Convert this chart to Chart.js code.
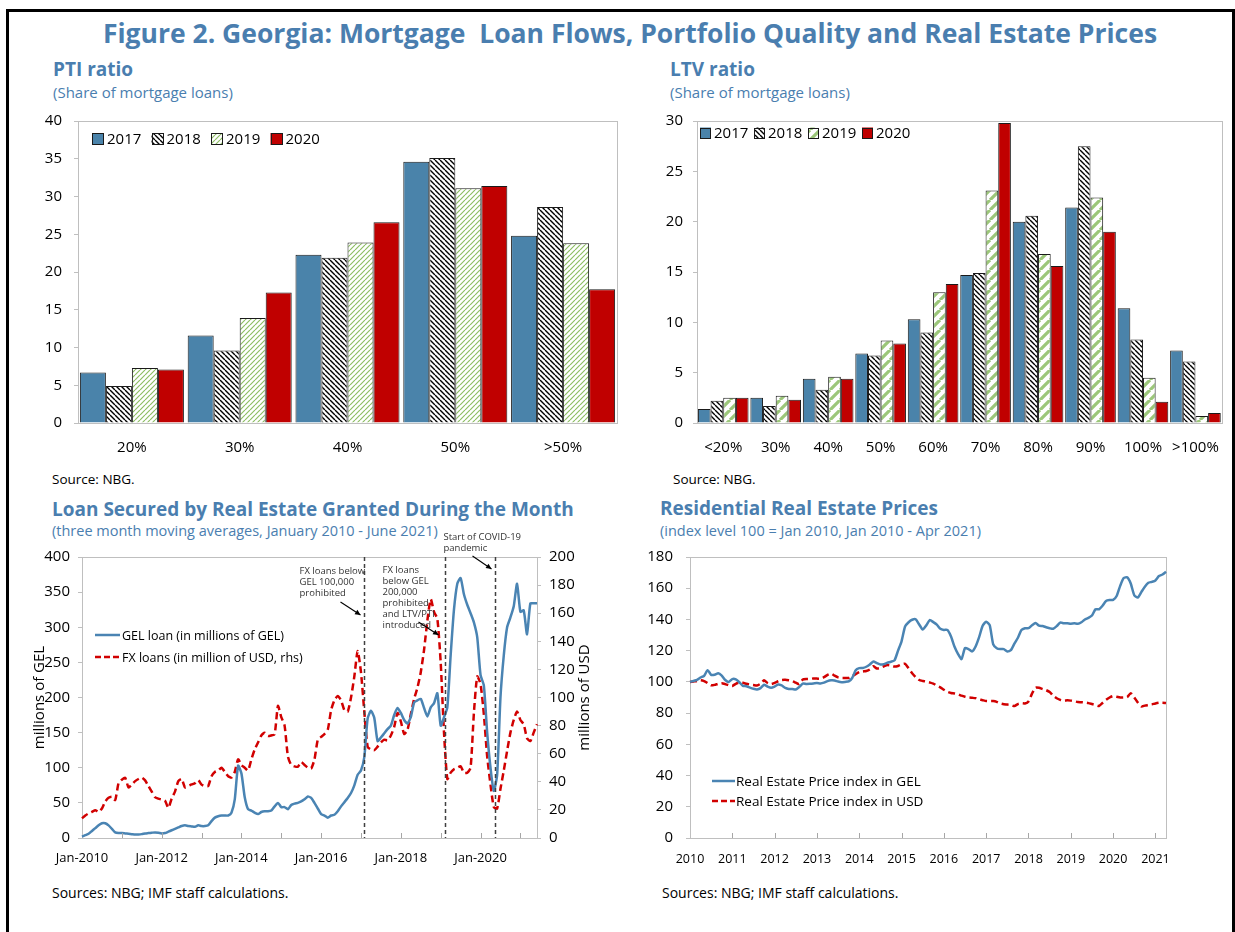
<!DOCTYPE html>
<html>
<head>
<meta charset="utf-8">
<script src="https://cdn.jsdelivr.net/npm/chart.js@4.4.1/dist/chart.umd.min.js"></script>
<style>
  body { margin: 0; width: 1235px; height: 932px; background: #fff; position: relative; overflow: hidden; font-family: "Open Sans", sans-serif; }
  .frame { position: absolute; left: 6px; top: 9px; width: 1223px; height: 960px; border: 3px solid #000; border-bottom: none; }
  .t { position: absolute; white-space: pre; color: #4A7EAF; }
  .h1 { left: 0; width: 1260px; text-align: center; top: 16px; line-height: 34px; font-weight: bold; font-size: 26.5px; }
  .h2 { font-weight: bold; font-size: 19px; line-height: 24px; }
  .h3 { font-size: 15px; line-height: 18px; }
  .src { position: absolute; white-space: pre; color: #000; font-size: 13.5px; line-height: 18px; }
  canvas { position: absolute; }
</style>
</head>
<body>
<div class="frame"></div>
<div class="t h1">Figure 2. Georgia: Mortgage  Loan Flows, Portfolio Quality and Real Estate Prices</div>
<div class="t h2" style="left:53px;top:57px">PTI ratio</div>
<div class="t h3" style="left:53px;top:83px">(Share of mortgage loans)</div>
<div class="t h2" style="left:670px;top:57px">LTV ratio</div>
<div class="t h3" style="left:670px;top:83px">(Share of mortgage loans)</div>
<div class="src" style="left:52px;top:470px">Source: NBG.</div>
<div class="src" style="left:673px;top:470px">Source: NBG.</div>
<div class="t h2" style="left:52px;top:497px">Loan Secured by Real Estate Granted During the Month</div>
<div class="t h3" style="left:52px;top:522px;font-size:14.5px">(three month moving averages, January 2010 - June 2021)</div>
<div class="t h2" style="left:660px;top:496px">Residential Real Estate Prices</div>
<div class="t h3" style="left:660px;top:522px;font-size:14.5px">(index level 100 = Jan 2010, Jan 2010 - Apr 2021)</div>
<div class="src" style="left:52px;top:884px;font-size:14px">Sources: NBG; IMF staff calculations.</div>
<div class="src" style="left:662px;top:884px;font-size:14px">Sources: NBG; IMF staff calculations.</div>

<canvas id="pti" width="600" height="360" style="left:30px;top:110px"></canvas>
<canvas id="ltv" width="595" height="360" style="left:640px;top:110px"></canvas>
<canvas id="loans" width="590" height="345" style="left:20px;top:525px"></canvas>
<canvas id="prices" width="595" height="330" style="left:640px;top:540px"></canvas>

<script>
// ---- data ----
const years = ['2017', '2018', '2019', '2020'];

const ptiCats = ['20%', '30%', '40%', '50%', '>50%'];
const pti2017 = [6.7, 11.6, 22.3, 34.6, 24.8];
const pti2018 = [4.9, 9.6, 21.9, 35.1, 28.6];
const pti2019 = [7.3, 13.9, 23.9, 31.1, 23.8];
const pti2020 = [7.1, 17.3, 26.6, 31.4, 17.7];

const ltvCats = ['<20%', '30%', '40%', '50%', '60%', '70%', '80%', '90%', '100%', '>100%'];
const ltv2017 = [1.4, 2.5, 4.4, 6.9, 10.3, 14.7, 20.0, 21.4, 11.4, 7.2];
const ltv2018 = [2.2, 1.7, 3.3, 6.7, 9.0, 14.9, 20.6, 27.5, 8.3, 6.1];
const ltv2019 = [2.5, 2.7, 4.6, 8.2, 13.0, 23.1, 16.8, 22.4, 4.5, 0.7];
const ltv2020 = [2.5, 2.3, 4.4, 7.9, 13.8, 29.8, 15.6, 19.0, 2.1, 1.0];

// Jan-2010 .. Jun-2021, millions of GEL
const gelLoans = [
  2, 4, 6, 10, 14, 18, 21, 21, 18, 13, 8, 7,
  7, 6.5, 6, 5.5, 5, 5, 5.5, 6.5, 7, 7.5, 8, 7.5,
  6.5, 7, 9, 11, 13, 15, 17, 18, 17, 16.5, 16, 18,
  17, 17, 18, 24, 29, 31, 32, 32, 32, 36, 55, 103,
  92, 58, 41, 39, 36, 34, 37, 38, 38, 39, 45, 50,
  44, 44, 41, 47, 49, 50, 52, 55, 59, 57, 50, 42,
  34, 32, 29, 32, 33, 38, 45, 51,
  57, 64, 75, 90, 96, 115, 170, 181, 171, 138, 143, 149,
  155, 160, 175, 185, 178, 168, 163, 172, 193, 196, 198, 185,
  173, 186, 192, 206, 160, 172, 186, 260, 325, 362, 370, 347,
  332, 320, 307, 286, 232, 217, 150, 100, 67, 90, 200, 260,
  300, 314, 330, 362, 322, 324, 290, 334, 334, 334
];
// millions of USD (rhs)
const fxLoans = [
  14, 16, 17.5, 18.6, 19.8, 18.5, 21, 26, 28.6, 29.3, 27, 39,
  41.5, 42.8, 36, 38, 40.5, 42, 43, 41, 37, 33, 29, 28,
  27.4, 26.5, 21.5, 28, 33, 40.5, 42, 36, 37, 38.1, 39, 41.2,
  38, 37, 37, 44, 47, 48, 50, 47, 44, 43, 47, 56,
  52, 50, 48, 56, 63, 68, 73, 75, 72.6, 73, 73.8, 94,
  86, 80, 58, 52, 51, 50.7, 54, 52, 50, 49.5, 56, 70,
  72, 74, 77, 91, 98, 101, 98, 91,
  90, 100, 115, 133, 118, 90, 65, 63, 62.5, 65, 68, 70,
  69.5, 73, 79, 89, 83, 74, 77, 88, 99, 107, 118, 134,
  155, 170, 161, 156, 125, 75, 42, 46.5, 49, 50, 51, 46.4,
  46.5, 50, 89, 115, 109.5, 88, 58, 38, 22, 21, 35, 48,
  62, 75, 84, 90, 84, 81, 71, 69, 75, 81
];
const loanTicks = [0, 50, 100, 150, 200, 250, 300, 350, 400];
const fxTicks = [0, 20, 40, 60, 80, 100, 120, 140, 160, 180, 200];

// Jan-2010 .. Apr-2021, index Jan 2010 = 100
const priceGel = [
  100, 100.6, 101.3, 102.8, 103.9, 107.5, 104.5, 104.6, 105.5, 104, 101.2, 100,
  101.8, 101.6, 99.8, 97.5, 97.2, 96.3, 95.6, 95.2, 96, 98.2, 97, 96.2,
  97, 98.3, 97.7, 96.2, 95.5, 95.5, 95.1, 96.8, 98.9, 98.7, 98.8, 99,
  99.3, 99, 99.5, 100.5, 101, 100.9, 100.2, 99.8, 100, 100.3, 102.5, 107.5,
  108.8, 108.9, 109.7, 111.2, 113, 112, 111.1, 111.4, 112.3, 112.9, 113.8, 120,
  126, 135.5, 138.2, 139.8, 140.1, 136.8, 133.6, 136.2, 139.6, 138.3, 136.7, 134,
  133.3, 133.3, 129.2, 122.7, 118, 114.6, 121.7, 121, 119.5, 122.7, 128.7, 135.9,
  138.6, 136.3, 124, 121.6, 121, 121, 119.5, 120.3, 124.5, 128.3, 133.2, 134.4,
  134.4, 136.3, 137.7, 136, 135.8, 135, 134.4, 134, 135.7, 138, 137.6, 137.6,
  137.3, 137.5, 137.2, 138.2, 140, 141, 142.5, 146.5, 146.5, 148.8, 151.8, 152.4,
  152.5, 155, 161.5, 166.5, 167, 163, 155.5, 154, 157.5, 161, 163.5, 164.1,
  165, 167.8, 168.8, 170.5
];
const priceUsd = [
  100, 100.3, 100.6, 101, 100.5, 99.2, 97.8, 98.1, 98.8, 99.2, 98.6, 97.8,
  97.4, 98.8, 99.6, 99.4, 98.8, 98.3, 98, 97.7, 98.8, 101, 99.3, 98.6,
  99.4, 100.4, 101.2, 101.3, 101, 100.5, 99.5, 98.5, 101.5, 101.9, 101.9, 102.2,
  102.1, 102, 103, 104.5, 105.3, 104, 102.9, 102.5, 102.5, 102.5, 103.6, 105,
  106.3, 106.7, 107, 108, 110, 108.6, 109, 110, 110.8, 110.5, 109.8, 110.2,
  111.2, 111.6, 108.6, 105.5, 103, 101.2, 100.6, 100.2, 99.6, 98.9, 97.6, 96.5,
  95, 93.7, 92.9, 92.6, 92.1, 91.2, 90.5, 90, 89.8, 89.6, 88.8, 88.3,
  87.8, 87.7, 87.7, 87.2, 86.2, 85.7, 85.5, 85.2, 84.5, 85.8, 86.3, 86.2,
  87.5, 92.5, 96.3, 96.2, 95.4, 94.7, 93.5, 91.2, 89.5, 88.5, 87.9, 88.2,
  88, 87.6, 87.1, 87, 86.8, 86.4, 85.8, 85.2, 84.6, 86.5, 88.5, 90,
  90.9, 90.5, 90, 90, 90.3, 92.8, 90, 86.8, 84.3, 84.8, 85.2, 85.6,
  86.2, 86.6, 86.6, 86.4
];

// policy events, as month index from Jan-2010
const eventAt = [84.8, 109.2, 124.4];
const eventText = [
  ['FX loans below', 'GEL 100,000', 'prohibited'],
  ['FX loans', 'below GEL', '200,000', 'prohibited', 'and LTV/PTI', 'introduced'],
  ['Start of COVID-19', 'pandemic']
];

const MON = ['Jan','Feb','Mar','Apr','May','Jun','Jul','Aug','Sep','Oct','Nov','Dec'];
function monthLabels(n) {
  const out = [];
  for (let i = 0; i < n; i++) out.push(MON[i % 12] + '-' + (2010 + Math.floor(i / 12)));
  return out;
}
const loanMonths = monthLabels(gelLoans.length);
const priceMonths = monthLabels(priceGel.length);

// ---- styles ----
const BLUE = '#4A84B3', BAR_BLUE = '#4A83AA', RED = '#C00000', LINE_RED = '#D10000';
const AXIS = '#BFBFBF';
Chart.defaults.font.family = '"Open Sans", sans-serif';
Chart.defaults.color = '#000';

const pctx = document.createElement('canvas').getContext('2d');
function hatch(color, size, lw, dir) {
  const c = document.createElement('canvas');
  c.width = c.height = size;
  const x = c.getContext('2d');
  x.fillStyle = '#fff'; x.fillRect(0, 0, size, size);
  x.strokeStyle = color; x.lineWidth = lw; x.beginPath();
  for (let k = -1; k <= 1; k++) {
    if (dir > 0) { x.moveTo(k * size, size); x.lineTo(k * size + size, 0); }
    else { x.moveTo(k * size, 0); x.lineTo(k * size + size, size); }
  }
  x.stroke();
  return pctx.createPattern(c, 'repeat');
}
const blackHatch = hatch('#000', 5, 1.4, -1);
const greenThin = hatch('#8DBE63', 5, 1.2, 1);
const greenWide = hatch('#9CC77A', 10, 3.2, 1);

const ptiFills = [BAR_BLUE, blackHatch, greenThin, RED];
const ltvFills = [BAR_BLUE, blackHatch, greenWide, RED];

// fixed axis size; drop the label overhang so layout.padding sets the plot top
function fixSize(key, px) {
  return s => { s[key] = px; s.paddingTop = 0; s.paddingBottom = 0; };
}

const framePlugin = {
  id: 'frame',
  beforeDatasetsDraw(chart) {
    const { ctx, chartArea: a } = chart;
    ctx.save();
    ctx.strokeStyle = AXIS; ctx.lineWidth = 1;
    ctx.strokeRect(Math.round(a.left) + 0.5, Math.round(a.top) + 0.5, Math.round(a.width), Math.round(a.height));
    ctx.restore();
  }
};

function makeKey(o) {
  return {
    id: 'key',
    afterDraw(chart) {
      const { ctx, chartArea: a } = chart;
      ctx.save();
      ctx.font = o.font; ctx.textBaseline = 'middle';
      o.items.forEach((it, i) => {
        const x = a.left + o.x + (o.dx || 0) * i, y = a.top + o.y + (o.dy || 0) * i;
        let w;
        if (it.fill) {
          w = o.box;
          ctx.fillStyle = it.fill; ctx.fillRect(x, y - w / 2, w, w);
          ctx.strokeStyle = '#1a1a1a'; ctx.lineWidth = 1;
          ctx.strokeRect(Math.round(x) + 0.5, Math.round(y - w / 2) + 0.5, w - 1, w - 1);
        } else {
          w = o.len;
          ctx.strokeStyle = it.color; ctx.lineWidth = 2.5; ctx.setLineDash(it.dash || []);
          ctx.beginPath(); ctx.moveTo(x, y); ctx.lineTo(x + w, y); ctx.stroke();
          ctx.setLineDash([]);
        }
        ctx.fillStyle = '#000';
        ctx.fillText(it.label, x + w + o.gap, y + 1);
      });
      ctx.restore();
    }
  };
}

function yearTicks(step) {
  return {
    id: 'yearTicks',
    afterDatasetsDraw(chart) {
      const { ctx, chartArea: a, scales: { x } } = chart;
      ctx.save();
      ctx.strokeStyle = '#A6A6A6'; ctx.lineWidth = 1; ctx.beginPath();
      for (let i = step; i < chart.data.labels.length; i += step) {
        const px = Math.round(x.getPixelForValue(i)) + 0.5;
        ctx.moveTo(px, a.bottom); ctx.lineTo(px, a.bottom - 5);
      }
      ctx.stroke();
      ctx.restore();
    }
  };
}

function barChart(id, cats, series, fills, ymax, pad, tickPad, yWidth, key) {
  return new Chart(document.getElementById(id), {
    type: 'bar',
    data: {
      labels: cats,
      datasets: series.map((d, k) => ({
        label: years[k], data: d, backgroundColor: fills[k],
        borderColor: '#1a1a1a', borderWidth: 1,
        categoryPercentage: 0.965, barPercentage: 1
      }))
    },
    options: {
      responsive: false, animation: false,
      layout: { padding: pad },
      plugins: { legend: { display: false }, tooltip: { enabled: false } },
      scales: {
        x: {
          grid: { display: false, drawTicks: false }, border: { display: false },
          ticks: { font: { size: 15 }, padding: 16 },
          afterFit: fixSize('height', 47)
        },
        y: {
          min: 0, max: ymax,
          ticks: { stepSize: 5, font: { size: 15 }, padding: tickPad },
          grid: { drawOnChartArea: false, tickLength: 4, color: AXIS },
          border: { display: false },
          afterFit: fixSize('width', yWidth)
        }
      }
    },
    plugins: [framePlugin, makeKey(key)]
  });
}

barChart('pti', ptiCats, [pti2017, pti2018, pti2019, pti2020], ptiFills, 40,
  { top: 11, right: 13, left: 0, bottom: 0 }, 12, 48,
  { x: 14, y: 18, dx: 59.5, box: 12, gap: 3, font: '15px "Open Sans"',
    items: years.map((y, k) => ({ label: y, fill: ptiFills[k] })) });

barChart('ltv', ltvCats, [ltv2017, ltv2018, ltv2019, ltv2020], ltvFills, 30,
  { top: 11, right: 4, left: 0, bottom: 0 }, 10, 57,
  { x: 3, y: 12, dx: 54, box: 11, gap: 3, font: '15px "Open Sans"',
    items: years.map((y, k) => ({ label: y, fill: ltvFills[k] })) });

function arrow(ctx, x1, y1, x2, y2) {
  const ang = Math.atan2(y2 - y1, x2 - x1), h = 6;
  ctx.beginPath(); ctx.moveTo(x1, y1); ctx.lineTo(x2, y2); ctx.stroke();
  ctx.beginPath(); ctx.moveTo(x2, y2);
  ctx.lineTo(x2 - h * Math.cos(ang - 0.45), y2 - h * Math.sin(ang - 0.45));
  ctx.lineTo(x2 - h * Math.cos(ang + 0.45), y2 - h * Math.sin(ang + 0.45));
  ctx.closePath(); ctx.fill();
}

// text offsets and arrows relative to each event line / plot top
const eventStyle = [
  { tx: -65, ty: 14, a: [-24, 45, -4, 58] },
  { tx: -63, ty: 13, a: [-27, 65, -7, 78] },
  { tx: -52, ty: -20, a: [-23, -1, -4, 12] }
];

const eventPlugin = {
  id: 'events',
  afterDatasetsDraw(chart) {
    const { ctx, chartArea: a, scales: { x } } = chart;
    ctx.save();
    eventAt.forEach((m, k) => {
      const px = Math.round(x.getPixelForValue(m)) + 0.5, st = eventStyle[k];
      ctx.strokeStyle = '#404040'; ctx.lineWidth = 1.5; ctx.setLineDash([4, 3]);
      ctx.beginPath(); ctx.moveTo(px, a.top); ctx.lineTo(px, a.bottom); ctx.stroke();
      ctx.setLineDash([]);
      ctx.fillStyle = '#333'; ctx.font = '9.5px "Open Sans"'; ctx.textBaseline = 'middle';
      eventText[k].forEach((t, j) => ctx.fillText(t, px + st.tx, a.top + st.ty + j * 11));
      ctx.strokeStyle = '#000'; ctx.fillStyle = '#000'; ctx.lineWidth = 1.1;
      arrow(ctx, px + st.a[0], a.top + st.a[1], px + st.a[2], a.top + st.a[3]);
    });
    // axis titles, both reading upward
    ctx.fillStyle = '#000'; ctx.font = '15px "Open Sans"'; ctx.textAlign = 'center';
    const cy = (a.top + a.bottom) / 2;
    [[a.left - 42, 'millions of GEL'], [a.right + 48, 'millions of USD']].forEach(([tx, t]) => {
      ctx.save(); ctx.translate(tx, cy); ctx.rotate(-Math.PI / 2); ctx.fillText(t, 0, 0); ctx.restore();
    });
    ctx.restore();
  }
};

new Chart(document.getElementById('loans'), {
  type: 'line',
  data: {
    labels: loanMonths,
    datasets: [
      { label: 'GEL loan (in millions of GEL)', data: gelLoans, yAxisID: 'y',
        borderColor: BLUE, borderWidth: 2.5, pointRadius: 0, tension: 0.2 },
      { label: 'FX loans (in million of USD, rhs)', data: fxLoans, yAxisID: 'y1',
        borderColor: LINE_RED, borderWidth: 2.5, borderDash: [7, 4], pointRadius: 0, tension: 0.2 }
    ]
  },
  options: {
    responsive: false, animation: false,
    layout: { padding: { top: 32, left: 0, right: 0, bottom: 0 } },
    plugins: { legend: { display: false }, tooltip: { enabled: false } },
    scales: {
      x: {
        offset: false,
        grid: { display: false, drawTicks: false }, border: { display: false },
        ticks: { autoSkip: false, maxRotation: 0, font: { size: 13 }, padding: 12,
          callback: (v, i) => (i % 24 === 0 ? loanMonths[i] : '') },
        afterFit: fixSize('height', 32)
      },
      y: {
        position: 'left', min: 0, max: 400,
        afterBuildTicks: s => { s.ticks = loanTicks.map(v => ({ value: v })); },
        ticks: { font: { size: 15 }, padding: 8 },
        grid: { drawOnChartArea: false, tickLength: 4, color: AXIS }, border: { display: false },
        afterFit: fixSize('width', 62)
      },
      y1: {
        position: 'right', min: 0, max: 200,
        afterBuildTicks: s => { s.ticks = fxTicks.map(v => ({ value: v })); },
        ticks: { font: { size: 15 }, padding: 8 },
        grid: { drawOnChartArea: false, tickLength: 4, color: AXIS }, border: { display: false },
        afterFit: fixSize('width', 73)
      }
    }
  },
  plugins: [framePlugin, yearTicks(12), eventPlugin,
    makeKey({ x: 13, y: 78, dy: 22, len: 25, gap: 2, font: '12.5px "Open Sans"',
      items: [
        { label: 'GEL loan (in millions of GEL)', color: BLUE },
        { label: 'FX loans (in million of USD, rhs)', color: LINE_RED, dash: [6, 3] }
      ] })]
});

new Chart(document.getElementById('prices'), {
  type: 'line',
  data: {
    labels: priceMonths,
    datasets: [
      { label: 'Real Estate Price index in GEL', data: priceGel,
        borderColor: BLUE, borderWidth: 2.5, pointRadius: 0, tension: 0.2 },
      { label: 'Real Estate Price index in USD', data: priceUsd,
        borderColor: LINE_RED, borderWidth: 2.5, borderDash: [7, 4], pointRadius: 0, tension: 0.2 }
    ]
  },
  options: {
    responsive: false, animation: false,
    layout: { padding: { top: 17, left: 0, right: 69, bottom: 0 } },
    plugins: { legend: { display: false }, tooltip: { enabled: false } },
    scales: {
      x: {
        offset: false,
        grid: { display: false, drawTicks: false }, border: { display: false },
        ticks: { autoSkip: false, maxRotation: 0, font: { size: 12.5 }, padding: 14,
          callback: (v, i) => (i % 12 === 0 ? priceMonths[i].slice(4) : '') },
        afterFit: fixSize('height', 32)
      },
      y: {
        min: 0, max: 180,
        ticks: { stepSize: 20, font: { size: 15 }, padding: 13 },
        grid: { drawOnChartArea: false, tickLength: 4, color: AXIS }, border: { display: false },
        afterFit: fixSize('width', 50)
      }
    }
  },
  plugins: [framePlugin, yearTicks(12),
    makeKey({ x: 22, y: 224, dy: 20, len: 23, gap: 1, font: '13.5px "Open Sans"',
      items: [
        { label: 'Real Estate Price index in GEL', color: BLUE },
        { label: 'Real Estate Price index in USD', color: LINE_RED, dash: [6, 3] }
      ] })]
});
</script>
</body>
</html>
